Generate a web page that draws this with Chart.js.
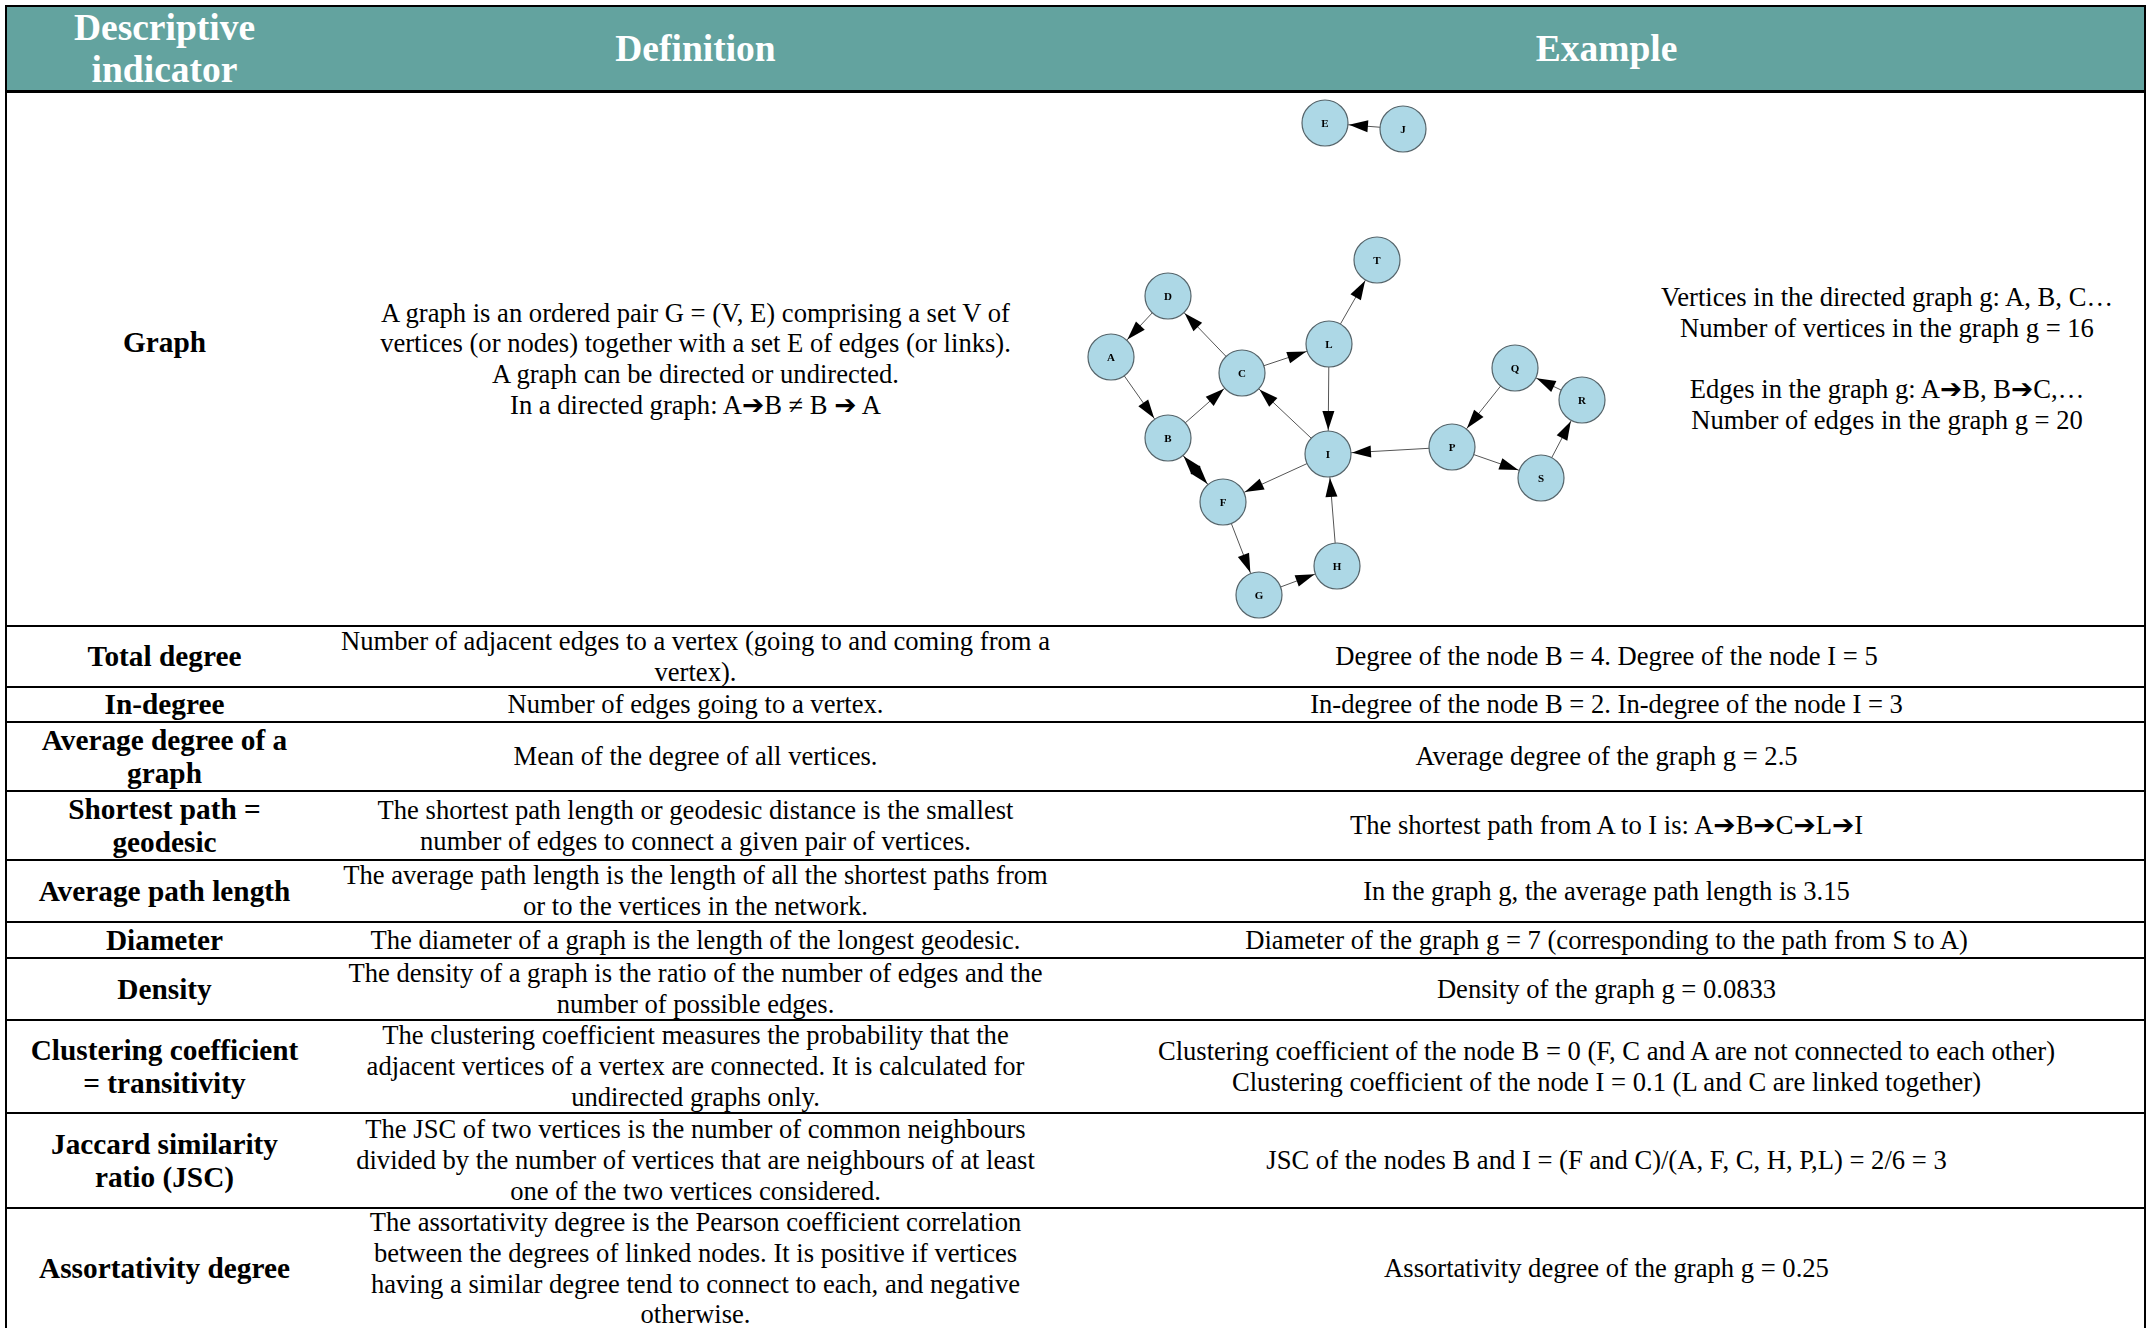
<!DOCTYPE html>
<html>
<head>
<meta charset="utf-8">
<script src="https://cdn.jsdelivr.net/npm/chart.js@4.4.0/dist/chart.umd.min.js"></script>
<style>
html, body { margin: 0; padding: 0; background: #fff; }
body { width: 2147px; height: 1330px; overflow: hidden; position: relative;
       font-family: "Liberation Serif", "Times New Roman", "DejaVu Sans", serif; color: #000; }
#tbl { position: absolute; left: 5px; top: 5px; width: 2141px; box-sizing: border-box;
       border-left: 2px solid #000; border-right: 2px solid #000; border-top: 2px solid #000; }
.row { display: flex; box-sizing: border-box; border-bottom: 2px solid #000; }
.row.last { border-bottom: none; }
.cell { display: flex; align-items: center; justify-content: center; text-align: center; white-space: pre; }
.c1 { width: 315px; font-weight: bold; font-size: 29.3px; line-height: 33px; }
.c2 { width: 747px; font-size: 26.6px; line-height: 30.7px; }
.c3 { width: 1075px; font-size: 26.6px; line-height: 30.7px; position: relative; }
.head { background: #63a39f; color: #fff; border-bottom: 3px solid #000; }
.head .cell { font-weight: bold; font-size: 37.5px; line-height: 42px; }
#graphCanvas { position: absolute; left: 11px; top: 0; }
#graphNote { position: absolute; left: 618px; width: 400px; top: 0; bottom: 0;
             display: flex; align-items: center; justify-content: center; }
</style>
</head>
<body>
<div id="tbl"></div>
<script>
// table text (\u2794 = heavy right arrow used in the source table)
const headers = ['Descriptive\nindicator', 'Definition', 'Example'];

const indicators = ['Graph', 'Total degree', 'In-degree', 'Average degree of a\ngraph',
    'Shortest path =\ngeodesic', 'Average path length', 'Diameter', 'Density',
    'Clustering coefficient\n= transitivity', 'Jaccard similarity\nratio (JSC)', 'Assortativity degree'];

const definitions = [
    'A graph is an ordered pair G = (V, E) comprising a set V of\nvertices (or nodes) together with a set E of edges (or links).\nA graph can be directed or undirected.\nIn a directed graph: A\u2794B \u2260 B \u2794 A',
    'Number of adjacent edges to a vertex (going to and coming from a\nvertex).',
    'Number of edges going to a vertex.',
    'Mean of the degree of all vertices.',
    'The shortest path length or geodesic distance is the smallest\nnumber of edges to connect a given pair of vertices.',
    'The average path length is the length of all the shortest paths from\nor to the vertices in the network.',
    'The diameter of a graph is the length of the longest geodesic.',
    'The density of a graph is the ratio of the number of edges and the\nnumber of possible edges.',
    'The clustering coefficient measures the probability that the\nadjacent vertices of a vertex are connected. It is calculated for\nundirected graphs only.',
    'The JSC of two vertices is the number of common neighbours\ndivided by the number of vertices that are neighbours of at least\none of the two vertices considered.',
    'The assortativity degree is the Pearson coefficient correlation\nbetween the degrees of linked nodes. It is positive if vertices\nhaving a similar degree tend to connect to each, and negative\notherwise.'
];

const examples = [
    'Vertices in the directed graph g: A, B, C\u2026\nNumber of vertices in the graph g = 16\n\nEdges in the graph g: A\u2794B, B\u2794C,\u2026\nNumber of edges in the graph g = 20',
    'Degree of the node B = 4. Degree of the node I = 5',
    'In-degree of the node B = 2. In-degree of the node I = 3',
    'Average degree of the graph g = 2.5',
    'The shortest path from A to I is: A\u2794B\u2794C\u2794L\u2794I',
    'In the graph g, the average path length is 3.15',
    'Diameter of the graph g = 7 (corresponding to the path from S to A)',
    'Density of the graph g = 0.0833',
    'Clustering coefficient of the node B = 0 (F, C and A are not connected to each other)\nClustering coefficient of the node I = 0.1 (L and C are linked together)',
    'JSC of the nodes B and I = (F and C)/(A, F, C, H, P,L) = 2/6 = 3',
    'Assortativity degree of the graph g = 0.25'
];

// example graph g
const nodeNames = ['E', 'J', 'T', 'D', 'A', 'L', 'C', 'Q', 'R', 'B', 'I', 'P', 'S', 'F', 'H', 'G'];
const nodeX = [245, 323, 297, 88, 31, 249, 162, 435, 502, 88, 248, 372, 461, 143, 257, 179];
const nodeY = [30, 36, 167, 203, 264, 251, 280, 275, 307, 345, 361, 354, 385, 409, 473, 502];

const edgeFrom = ['J', 'D', 'A', 'B', 'C', 'C', 'L', 'L', 'I', 'I', 'B', 'F', 'F', 'G', 'H', 'P', 'Q', 'P', 'S', 'R'];
const edgeTo   = ['E', 'A', 'B', 'C', 'D', 'L', 'T', 'I', 'C', 'F', 'F', 'B', 'G', 'H', 'I', 'I', 'P', 'S', 'R', 'Q'];

// row heights (px) for header + body rows
const rowHeights = [86, 534, 61, 35, 69, 69, 62, 36, 62, 93, 95, 119];

const tbl = document.getElementById('tbl');

function addCell(row, cls, text) {
    const c = document.createElement('div');
    c.className = 'cell ' + cls;
    c.textContent = text;
    row.appendChild(c);
    return c;
}

const head = document.createElement('div');
head.className = 'row head';
head.style.height = rowHeights[0] + 'px';
addCell(head, 'c1', headers[0]);
addCell(head, 'c2', headers[1]);
addCell(head, 'c3', headers[2]);
tbl.appendChild(head);

let graphCell = null;
indicators.forEach((name, i) => {
    const r = document.createElement('div');
    r.className = 'row' + (i === indicators.length - 1 ? ' last' : '');
    r.style.height = rowHeights[i + 1] + 'px';
    const lab = addCell(r, 'c1', name);
    if (i === 0) lab.style.paddingBottom = '34px';
    addCell(r, 'c2', definitions[i]);
    if (i === 0) {
        graphCell = addCell(r, 'c3', '');
        const note = document.createElement('div');
        note.id = 'graphNote';
        note.textContent = examples[0];
        graphCell.appendChild(note);
    } else {
        addCell(r, 'c3', examples[i]);
    }
    tbl.appendChild(r);
});

const canvas = document.createElement('canvas');
canvas.id = 'graphCanvas';
canvas.width = 560;
canvas.height = 531;
graphCell.appendChild(canvas);

const NODE_R = 23;
const idx = n => nodeNames.indexOf(n);

const edgeSets = edgeFrom.map((f, k) => ({
    data: [{ x: nodeX[idx(f)], y: nodeY[idx(f)] }, { x: nodeX[idx(edgeTo[k])], y: nodeY[idx(edgeTo[k])] }],
    showLine: true,
    borderColor: '#555',
    borderWidth: 1,
    pointRadius: 0,
    order: 2
}));

const nodeSet = {
    data: nodeNames.map((n, i) => ({ x: nodeX[i], y: nodeY[i] })),
    pointRadius: NODE_R,
    pointBackgroundColor: '#add8e6',
    pointBorderColor: '#56656b',
    pointBorderWidth: 1.2,
    order: 1
};

// arrowheads and node labels
const graphDecor = {
    id: 'graphDecor',
    afterDatasetsDraw(chart) {
        const c = chart.ctx;
        const xs = chart.scales.x, ys = chart.scales.y;
        c.save();
        c.fillStyle = '#000';
        edgeFrom.forEach((f, k) => {
            const a = idx(f), b = idx(edgeTo[k]);
            const x1 = xs.getPixelForValue(nodeX[a]), y1 = ys.getPixelForValue(nodeY[a]);
            const x2 = xs.getPixelForValue(nodeX[b]), y2 = ys.getPixelForValue(nodeY[b]);
            const len = Math.hypot(x2 - x1, y2 - y1);
            const ux = (x2 - x1) / len, uy = (y2 - y1) / len;
            const tx = x2 - ux * (NODE_R + 1), ty = y2 - uy * (NODE_R + 1);
            const bx = tx - ux * 19, by = ty - uy * 19;
            c.beginPath();
            c.moveTo(tx, ty);
            c.lineTo(bx - uy * 6, by + ux * 6);
            c.lineTo(bx + uy * 6, by - ux * 6);
            c.closePath();
            c.fill();
        });
        c.font = 'bold 11px "Liberation Serif", serif';
        c.textAlign = 'center';
        c.textBaseline = 'middle';
        nodeNames.forEach((n, i) => {
            c.fillText(n, xs.getPixelForValue(nodeX[i]), ys.getPixelForValue(nodeY[i]) + 1);
        });
        c.restore();
    }
};

new Chart(canvas.getContext('2d'), {
    type: 'scatter',
    data: { datasets: [...edgeSets, nodeSet] },
    options: {
        responsive: false,
        animation: false,
        events: [],
        devicePixelRatio: 1,
        layout: { padding: 0, autoPadding: false },
        scales: {
            x: { display: false, min: 0, max: 560 },
            y: { display: false, min: 0, max: 531, reverse: true }
        },
        plugins: { legend: { display: false }, tooltip: { enabled: false } }
    },
    plugins: [graphDecor]
});
</script>
</body>
</html>
